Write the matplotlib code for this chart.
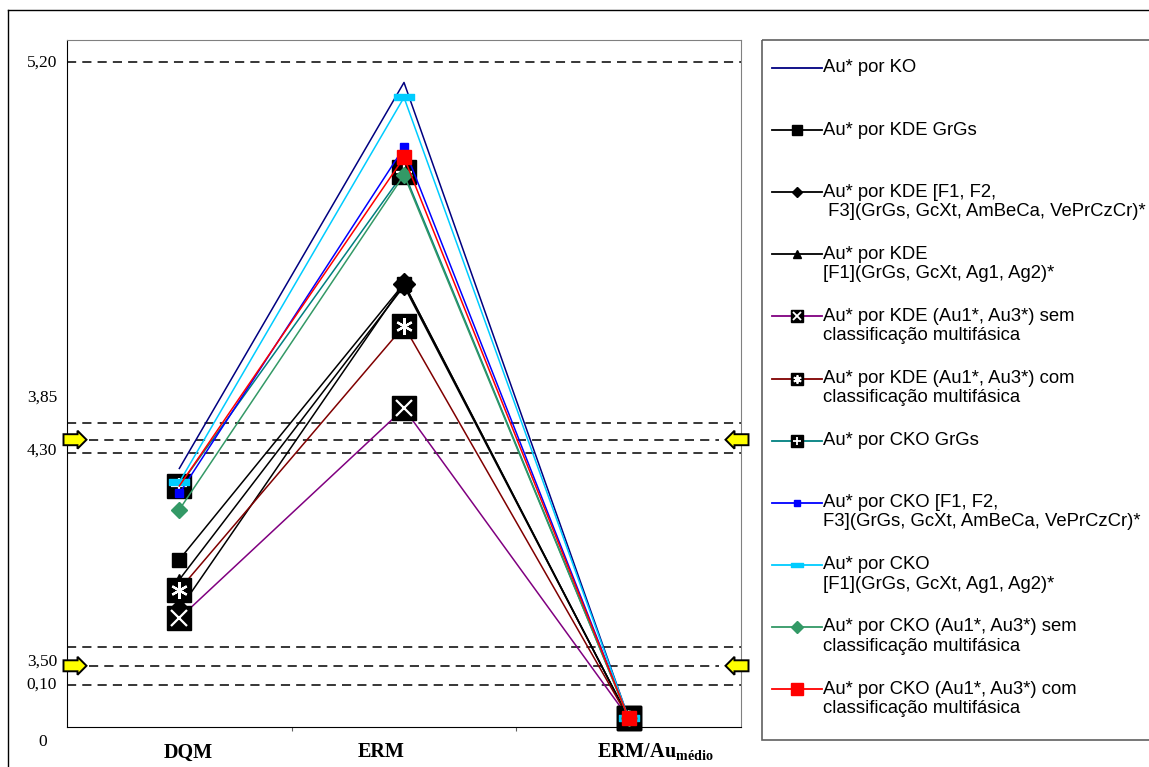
import matplotlib
matplotlib.use("Agg")
import matplotlib.pyplot as plt
import matplotlib.transforms as mtransforms
from matplotlib.path import Path
from matplotlib.patches import Polygon, Rectangle

plt.rcParams['mathtext.fontset'] = 'custom'
plt.rcParams['mathtext.rm'] = 'Liberation Serif'
plt.rcParams['mathtext.bf'] = 'Liberation Serif:bold'

# ---- data ----
categories = ["DQM", "ERM", r"ERM/Au$_{\mathbf{médio}}$"]
label_shift = [0.04, -0.10, 0.12]   # category labels sit slightly off-centre

labels = [
    "Au* por KO",
    "Au* por KDE GrGs",
    "Au* por KDE [F1, F2,\n F3](GrGs, GcXt, AmBeCa, VePrCzCr)*",
    "Au* por KDE\n[F1](GrGs, GcXt, Ag1, Ag2)*",
    "Au* por KDE (Au1*, Au3*) sem\nclassificação multifásica",
    "Au* por KDE (Au1*, Au3*) com\nclassificação multifásica",
    "Au* por CKO GrGs",
    "Au* por CKO [F1, F2,\nF3](GrGs, GcXt, AmBeCa, VePrCzCr)*",
    "Au* por CKO\n[F1](GrGs, GcXt, Ag1, Ag2)*",
    "Au* por CKO (Au1*, Au3*) sem\nclassificação multifásica",
    "Au* por CKO (Au1*, Au3*) com\nclassificação multifásica",
]
dqm_vals = [2.07, 1.34, 0.94, 1.18, 0.87, 1.10, 1.93, 1.87, 1.96, 1.74, 1.93]
erm_vals = [5.16, 3.55, 3.55, 3.53, 2.55, 3.21, 4.44, 4.64, 5.04, 4.42, 4.56]
ermau_vals = [0.07, 0.07, 0.07, 0.07, 0.07, 0.07, 0.07, 0.07, 0.07, 0.07, 0.07]

ref_lines = [5.32, 2.43, 2.19, 0.64, 0.34]      # dashed limits
arrow_lines = [2.30, 0.49]                       # dashed lines with arrows
ytick_text = ["5,20", "3,85", "4,30", "3,50", "0,10", "0"]
ytick_pos = [5.32, 2.64, 2.21, 0.52, 0.34, -0.12]

colors = ["#000080", "black", "black", "black", "#800080", "#800000",
          "#008080", "#0000FF", "#00CCFF", "#339966", "#FF0000"]

# marker styles: (marker, size, face, inner marker, inner color, inner size)
dash = Path([(-1.5, -0.45), (1.5, -0.45), (1.5, 0.45), (-1.5, 0.45), (-1.5, -0.45)],
            [Path.MOVETO, Path.LINETO, Path.LINETO, Path.LINETO, Path.CLOSEPOLY])
asterisk = (6, 2, 0)
styles = [
    (None, 0, None, None, None, 0),
    ("s", 10, "black", None, None, 0),
    ("D", 11, "black", None, None, 0),
    ("^", 9, "black", None, None, 0),
    ("s", 17, "black", "x", "white", 11),
    ("s", 17, "black", asterisk, "white", 12),
    ("s", 17, "black", "+", "white", 11),
    ("s", 6, "#0000FF", None, None, 0),
    (dash, 14, "#00CCFF", None, None, 0),
    ("D", 8, "#339966", None, None, 0),
    ("s", 10, "#FF0000", None, None, 0),
]
legend_styles = [
    (None, 0, None, None, None, 0),
    ("s", 7.5, "black", None, None, 0),
    ("D", 5, "black", None, None, 0),
    ("^", 6, "black", None, None, 0),
    ("s", 9, "black", "x", "white", 6),
    ("s", 9, "black", asterisk, "white", 6),
    ("s", 9, "black", "+", "white", 6),
    ("s", 5, "#0000FF", None, None, 0),
    (dash, 9, "#00CCFF", None, None, 0),
    ("D", 6, "#339966", None, None, 0),
    ("s", 8, "#FF0000", None, None, 0),
]

W, H = 1149, 767
fig = plt.figure(figsize=(W / 100, H / 100), dpi=100)

ax = fig.add_axes([67 / W, (H - 727) / H, (741 - 67) / W, (727 - 40) / H])
ax.set_xlim(-0.5, 2.5)
ax.set_ylim(0, 5.5)
for side in ["top", "right"]:
    ax.spines[side].set_color("#808080")
for side in ["left", "bottom"]:
    ax.spines[side].set_color("black")
ax.set_yticks([])
ax.set_xticks([0.5, 1.5])
ax.set_xticklabels([])
ax.tick_params(axis="x", which="major", length=3, direction="out", color="#606060")

trans = mtransforms.blended_transform_factory(ax.transData, ax.transAxes)
for i, c in enumerate(categories):
    ax.text(i + label_shift[i], -0.037, c, transform=trans, ha="center", va="center",
            fontsize=14.5, fontweight="bold", family="Liberation Serif")

dash_style = (0, (6, 4))
for v in ref_lines:
    ax.axhline(v, color="black", lw=1.1, linestyle=dash_style, zorder=1)
for v in arrow_lines:
    ax.plot([-0.4, 2.4], [v, v], color="black", lw=1.1, linestyle=dash_style, zorder=1)

x = [0, 1, 2]
for i in range(len(labels)):
    y = [dqm_vals[i], erm_vals[i], ermau_vals[i]]
    mk, ms, fc, inner, ic, ims = styles[i]
    me = [1, 2] if i == 10 else None
    ax.plot(x, y, color=colors[i], lw=1.1, marker=mk, ms=ms, mfc=fc, mec=fc,
            markevery=me, zorder=2 + i, clip_on=False)
    if inner is not None:
        ax.plot(x, y, linestyle="none", marker=inner, ms=ims, mec=ic, mew=1.6,
                zorder=2 + i, clip_on=False)

# overlay in pixel coordinates for frame, arrows, legend (drawn on top)
over = fig.add_axes([0, 0, 1, 1])
over.set_xlim(0, W)
over.set_ylim(H, 0)
over.axis("off")
over.patch.set_visible(False)
over.plot([8, W], [10, 10], color="black", lw=1)
over.plot([8, 8], [10, H], color="black", lw=1)

# pseudo tick labels
for t, v in zip(ytick_text, ytick_pos):
    py = ax.transData.transform((0, v))[1]
    over.text(57 if t != "0" else 47, H - py, t, ha="right", va="center",
              fontsize=12.5, family="Liberation Serif")

# yellow arrows
def block_arrow(xc, yc, direction):
    L, h, hb, head = 23, 5.5, 9, 9
    d = direction
    pts = [(xc - d * L / 2, yc - h), (xc + d * (L / 2 - head), yc - h),
           (xc + d * (L / 2 - head), yc - hb), (xc + d * L / 2, yc),
           (xc + d * (L / 2 - head), yc + hb), (xc + d * (L / 2 - head), yc + h),
           (xc - d * L / 2, yc + h)]
    over.add_patch(Polygon(pts, closed=True, fc="#FFFF00", ec="black", lw=1.4, zorder=5))

for v in arrow_lines:
    py = H - ax.transData.transform((0, v))[1]
    block_arrow(75, py, 1)
    block_arrow(737, py, -1)

# legend box
over.add_patch(Rectangle((762, 40), W - 762 + 5, 700, fill=False, ec="#606060", lw=1.2))
for i, lab in enumerate(labels):
    yc = 68 + i * 62.1
    over.plot([772, 822], [yc, yc], color=colors[i], lw=1.3)
    mk, ms, fc, inner, ic, ims = legend_styles[i]
    if mk is not None:
        over.plot([797], [yc], marker=mk, ms=ms, mfc=fc, mec=fc, linestyle="none")
    if inner is not None:
        over.plot([797], [yc], marker=inner, ms=ims, mec=ic, mew=1.3, linestyle="none")
    over.text(823, yc - 8.5, lab, ha="left", va="top", fontsize=13.3,
              family="Liberation Sans", linespacing=1.17)

fig.savefig("out.png", dpi=100)
